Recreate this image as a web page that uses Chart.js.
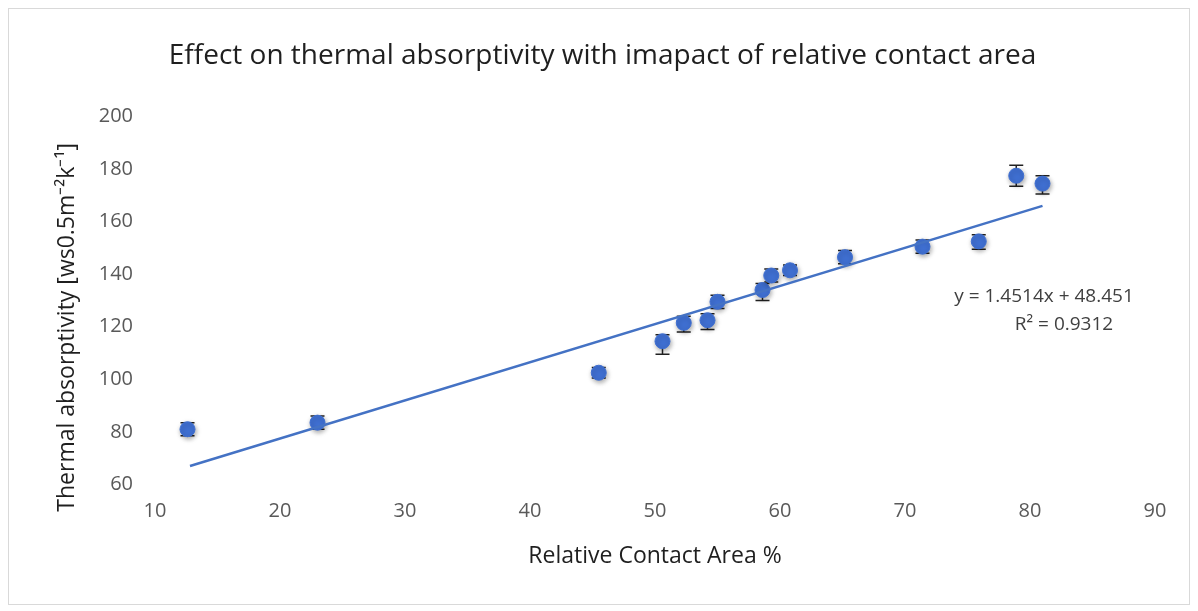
<!DOCTYPE html>
<html lang="en">
<head>
<meta charset="UTF-8">
<title>Thermal absorptivity vs relative contact area</title>
<script src="https://cdn.jsdelivr.net/npm/chart.js"></script>
<style>
    body { margin: 0; background: #fff; }
    .wrap { width: 1198px; height: 611px; position: relative; }
</style>
</head>
<body>
<div class="wrap"><canvas id="chart" width="1198" height="611"></canvas></div>
<script>
    // values
    const contactArea = [12.6, 23.0, 45.5, 50.6, 52.3, 54.2, 55.0, 58.6, 59.3, 60.8, 65.2, 71.4, 75.9, 78.9, 81.0];
    const absorptivity = [81.0, 83.5, 102.5, 114.5, 121.5, 122.5, 129.5, 134.0, 139.5, 141.5, 146.5, 150.5, 152.5, 177.5, 174.5];
    const errMinus = [2.5, 2.5, 2.0, 5.0, 3.5, 3.5, 2.5, 4.0, 2.5, 2.0, 2.5, 2.5, 3.0, 4.0, 4.0];
    const errPlus  = [2.5, 2.5, 2.0, 2.5, 2.5, 2.5, 2.5, 2.5, 2.5, 2.0, 2.5, 2.5, 2.5, 4.0, 3.0];
    const trendX = [12.8, 81.0];
    const trendY = [67.0, 166.0];
    const equationLines = ['y = 1.4514x + 48.451', 'R\u00B2 = 0.9312'];

    const blue = '#3f6fd1';
    const font = '"Open Sans", sans-serif';

    // error bars drawn under the markers
    const errorBars = {
        id: 'errorBars',
        beforeDatasetsDraw(chart) {
            const { ctx, scales: { x, y } } = chart;
            ctx.save();
            ctx.strokeStyle = '#222';
            ctx.lineWidth = 1.5;
            contactArea.forEach((cx, i) => {
                const px = x.getPixelForValue(cx);
                const top = y.getPixelForValue(absorptivity[i] + errPlus[i]);
                const bot = y.getPixelForValue(absorptivity[i] - errMinus[i]);
                ctx.beginPath();
                ctx.moveTo(px, top); ctx.lineTo(px, bot);
                ctx.moveTo(px - 7, top); ctx.lineTo(px + 7, top);
                ctx.moveTo(px - 7, bot); ctx.lineTo(px + 7, bot);
                ctx.stroke();
            });
            ctx.restore();
        }
    };

    // soft shadow on the markers, like the spreadsheet original
    const markerShadow = {
        id: 'markerShadow',
        beforeDatasetDraw(chart, args) {
            if (args.index !== 1) return;
            const ctx = chart.ctx;
            ctx.save();
            ctx.shadowColor = 'rgba(0,0,0,0.35)';
            ctx.shadowBlur = 5;
            ctx.shadowOffsetX = 1;
            ctx.shadowOffsetY = 2;
        },
        afterDatasetDraw(chart, args) {
            if (args.index !== 1) return;
            chart.ctx.restore();
        }
    };

    const equationLabel = {
        id: 'equationLabel',
        afterDraw(chart) {
            const ctx = chart.ctx;
            ctx.save();
            ctx.fillStyle = '#404040';
            ctx.font = '19px ' + font;
            ctx.textAlign = 'center';
            ctx.textBaseline = 'middle';
            ctx.fillText(equationLines[0], 1044, 297);
            ctx.fillText(equationLines[1], 1064, 325);
            ctx.restore();
        }
    };

    const frame = {
        id: 'frame',
        afterDraw(chart) {
            const ctx = chart.ctx;
            ctx.save();
            ctx.strokeStyle = '#d9d9d9';
            ctx.lineWidth = 1;
            ctx.strokeRect(8.5, 8.5, 1181, 596);
            ctx.restore();
        }
    };

    new Chart(document.getElementById('chart'), {
        type: 'scatter',
        data: {
            datasets: [
                {
                    type: 'line',
                    label: 'Trend',
                    data: trendX.map((v, i) => ({ x: v, y: trendY[i] })),
                    borderColor: '#4472c4',
                    borderWidth: 2.5,
                    pointRadius: 0,
                    fill: false
                },
                {
                    label: 'Thermal absorptivity',
                    data: contactArea.map((v, i) => ({ x: v, y: absorptivity[i] })),
                    backgroundColor: blue,
                    borderColor: blue,
                    pointRadius: 7.5,
                    pointHoverRadius: 7.5
                }
            ]
        },
        options: {
            responsive: false,
            animation: false,
            devicePixelRatio: 1,
            layout: { padding: { left: 50, right: 43, top: 0, bottom: 37 } },
            plugins: {
                legend: { display: false },
                tooltip: { enabled: false },
                title: {
                    display: true,
                    text: 'Effect on thermal absorptivity with imapact of relative contact area',
                    color: '#1f1f1f',
                    font: { family: font, size: 28, weight: 'normal' },
                    padding: { top: 39, bottom: 44 }
                }
            },
            scales: {
                x: {
                    type: 'linear',
                    min: 10, max: 90,
                    ticks: { stepSize: 10, color: '#595959', font: { family: font, size: 20 }, padding: 7 },
                    grid: { display: false },
                    border: { display: false },
                    title: {
                        display: true,
                        text: 'Relative Contact Area %',
                        color: '#1f1f1f',
                        font: { family: font, size: 23 },
                        padding: { top: 12 }
                    }
                },
                y: {
                    min: 60, max: 200,
                    ticks: { stepSize: 20, color: '#595959', font: { family: font, size: 20 }, padding: 14 },
                    grid: { display: false },
                    border: { display: false },
                    title: {
                        display: true,
                        // trailing spaces nudge the rotated label downwards as in the original
                        text: 'Thermal absorptivity [ws0.5m\u207B\u00B2k\u207B\u00B9]         ',
                        color: '#1f1f1f',
                        font: { family: font, size: 23 },
                        padding: { bottom: 2 }
                    },
                    afterFit(scale) { scale.width = 105; }
                }
            }
        },
        plugins: [errorBars, markerShadow, equationLabel, frame]
    });
</script>
</body>
</html>
